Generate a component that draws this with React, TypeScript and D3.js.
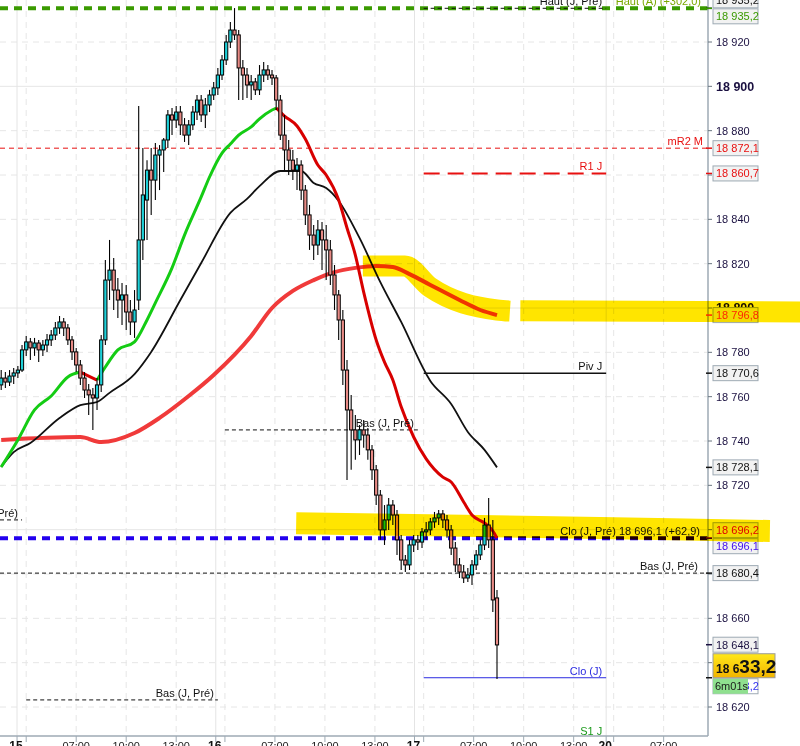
import React, { useEffect } from 'react';
import * as d3 from 'd3';

// 15 min bars, index 0 = first bar on screen
const opens = [
  18765.3, 18768.4, 18766.6, 18769.3, 18770.7, 18772.0, 18781.1, 18784.7, 18782.0, 18784.2,
  18781.1, 18783.3, 18785.6, 18787.8, 18791.0, 18793.7, 18791.0, 18785.6, 18780.2, 18774.3,
  18768.4, 18763.0, 18760.8, 18759.4, 18765.3, 18785.6, 18812.6, 18817.1, 18808.1, 18803.6,
  18805.9, 18798.2, 18793.7, 18803.6, 18830.7, 18848.7, 18862.2, 18857.7, 18869.0, 18871.3,
  18875.8, 18887.1, 18884.8, 18888.4, 18882.6, 18878.0, 18882.6, 18888.4, 18893.8, 18887.1,
  18891.6, 18896.1, 18899.3, 18905.1, 18911.9, 18920.0, 18925.4, 18923.2, 18908.3, 18905.1,
  18900.6, 18902.0, 18898.4, 18905.1, 18907.4, 18905.1, 18903.8, 18893.8, 18878.0, 18871.3,
  18866.7, 18862.2, 18864.5, 18853.2, 18842.0, 18832.9, 18828.4, 18835.2, 18830.7, 18826.2,
  18814.9, 18805.9, 18794.6, 18772.0, 18754.0, 18745.0, 18740.5, 18745.0, 18742.7, 18736.0,
  18727.0, 18715.6, 18699.9, 18704.4, 18711.1, 18706.6, 18695.4, 18686.3, 18684.1, 18693.1,
  18695.4, 18694.4, 18699.0, 18699.9, 18703.5, 18705.3, 18707.1, 18704.4, 18699.9, 18691.7,
  18684.1, 18680.9, 18678.2, 18679.6, 18684.1, 18688.6, 18693.1, 18702.1, 18695.4, 18669.2,
];
const highs = [
  18772.0, 18771.1, 18772.0, 18772.9, 18773.8, 18783.3, 18787.4, 18786.5, 18786.5, 18785.6,
  18785.6, 18788.3, 18790.1, 18793.7, 18796.4, 18795.5, 18792.8, 18787.4, 18782.0, 18776.5,
  18771.1, 18765.7, 18763.9, 18768.4, 18787.8, 18821.7, 18830.7, 18822.6, 18813.5, 18811.3,
  18810.4, 18803.6, 18808.1, 18891.1, 18872.2, 18866.7, 18872.2, 18874.4, 18873.5, 18876.7,
  18889.3, 18890.2, 18891.1, 18891.1, 18885.7, 18884.8, 18891.1, 18896.1, 18896.1, 18894.7,
  18898.4, 18902.0, 18908.3, 18914.1, 18923.2, 18929.0, 18935.3, 18925.4, 18911.9, 18908.3,
  18905.1, 18903.8, 18909.6, 18911.0, 18909.6, 18907.4, 18905.1, 18896.1, 18887.1, 18875.8,
  18871.3, 18867.7, 18866.7, 18855.5, 18846.5, 18837.4, 18839.7, 18838.8, 18837.4, 18830.7,
  18819.4, 18808.1, 18799.1, 18776.5, 18760.8, 18751.7, 18747.2, 18749.5, 18745.9, 18738.2,
  18729.2, 18717.9, 18711.1, 18714.3, 18713.4, 18708.9, 18697.6, 18688.6, 18695.4, 18697.6,
  18697.6, 18700.8, 18703.5, 18705.3, 18708.0, 18708.9, 18708.9, 18706.6, 18702.1, 18694.4,
  18687.2, 18684.1, 18682.7, 18686.3, 18690.8, 18695.4, 18705.3, 18714.3, 18704.4, 18672.8,
];
const lows = [
  18763.0, 18763.9, 18764.8, 18765.7, 18768.4, 18771.1, 18778.4, 18776.5, 18778.4, 18775.6,
  18778.4, 18780.2, 18782.9, 18785.6, 18788.3, 18787.4, 18783.3, 18776.5, 18771.1, 18765.3,
  18759.4, 18751.7, 18745.0, 18754.0, 18762.1, 18783.3, 18803.6, 18799.1, 18795.5, 18792.3,
  18790.1, 18787.8, 18786.5, 18799.1, 18821.7, 18830.7, 18842.0, 18848.7, 18853.2, 18861.4,
  18872.2, 18878.0, 18881.2, 18878.0, 18874.9, 18873.5, 18880.3, 18884.8, 18883.9, 18881.2,
  18888.4, 18893.8, 18896.1, 18902.9, 18909.6, 18917.3, 18920.9, 18893.8, 18893.8, 18894.7,
  18893.8, 18896.1, 18896.1, 18902.0, 18902.9, 18900.6, 18889.3, 18875.8, 18862.2, 18860.0,
  18857.7, 18853.2, 18848.7, 18837.4, 18826.2, 18821.7, 18823.9, 18817.1, 18812.6, 18810.4,
  18799.1, 18785.6, 18765.3, 18722.4, 18727.0, 18731.5, 18733.7, 18736.9, 18731.5, 18722.4,
  18711.1, 18695.4, 18693.1, 18699.9, 18702.1, 18688.6, 18681.8, 18680.9, 18681.8, 18689.9,
  18690.8, 18691.7, 18695.4, 18697.6, 18700.8, 18702.1, 18700.8, 18696.3, 18688.6, 18680.9,
  18678.2, 18675.9, 18676.4, 18675.0, 18681.8, 18686.3, 18690.8, 18691.7, 18662.9, 18632.6,
];
const closes = [
  18768.4, 18766.6, 18769.3, 18770.7, 18772.0, 18781.1, 18784.7, 18782.0, 18784.2, 18781.1,
  18783.3, 18785.6, 18787.8, 18791.0, 18793.7, 18791.0, 18785.6, 18780.2, 18774.3, 18768.4,
  18763.0, 18760.8, 18759.4, 18765.3, 18785.6, 18812.6, 18817.1, 18808.1, 18803.6, 18805.9,
  18798.2, 18793.7, 18799.1, 18830.7, 18851.0, 18862.2, 18857.7, 18869.0, 18871.3, 18875.8,
  18887.1, 18884.8, 18888.4, 18882.6, 18878.0, 18882.6, 18888.4, 18893.8, 18887.1, 18891.6,
  18896.1, 18899.3, 18905.1, 18911.9, 18920.0, 18925.4, 18923.2, 18908.3, 18905.1, 18900.6,
  18902.0, 18898.4, 18905.1, 18907.4, 18905.1, 18903.8, 18893.8, 18878.0, 18871.3, 18866.7,
  18862.2, 18864.5, 18853.2, 18842.0, 18832.9, 18828.4, 18835.2, 18830.7, 18826.2, 18814.9,
  18805.9, 18794.6, 18772.0, 18754.0, 18745.0, 18740.5, 18745.0, 18742.7, 18736.0, 18727.0,
  18715.6, 18699.9, 18704.4, 18711.1, 18706.6, 18695.4, 18686.3, 18684.1, 18693.1, 18695.4,
  18694.4, 18699.0, 18699.9, 18703.5, 18705.3, 18707.1, 18704.4, 18699.9, 18691.7, 18684.1,
  18680.9, 18678.2, 18679.6, 18684.1, 18688.6, 18693.1, 18702.1, 18695.4, 18668.3, 18648.0,
];

// moving averages, sampled at bar indices
const fastIdx = [0, 4, 8, 12, 16, 19, 23, 25, 28, 32, 35, 37, 41, 44, 48, 50, 53, 55, 57, 60, 62, 65, 66, 68, 71, 73, 76, 78, 81, 83, 85, 87, 90, 92, 94, 96, 99, 102, 106, 108, 111, 113, 116, 118, 119];
const fastVal = [
  18728.3, 18740.5, 18754.0, 18760.3, 18768.9, 18771.1, 18767.5, 18773.4, 18781.1, 18784.7,
  18794.6, 18802.3, 18818.1, 18832.9, 18850.1, 18859.1, 18869.9, 18874.0, 18878.0, 18881.7,
  18885.3, 18889.3, 18890.2, 18886.6, 18882.1, 18876.2, 18864.5, 18860.0, 18848.7, 18836.1,
  18823.9, 18807.2, 18785.6, 18775.6, 18767.5, 18755.4, 18741.8, 18731.9, 18723.7, 18721.5,
  18712.5, 18706.6, 18703.0, 18699.4, 18696.2,
];
const midIdx = [0, 3, 7, 14, 19, 23, 26, 32, 36, 43, 48, 55, 59, 62, 67, 72, 75, 78, 81, 86, 91, 96, 103, 108, 112, 116, 119];
const midVal = [
  18728.3, 18735.0, 18739.1, 18750.4, 18756.2, 18757.6, 18761.7, 18770.2, 18780.2, 18803.6,
  18820.3, 18842.9, 18849.2, 18855.0, 18861.8, 18861.8, 18856.4, 18854.1, 18848.3, 18831.6,
  18811.7, 18793.7, 18767.1, 18756.7, 18744.1, 18736.0, 18728.1,
];
const slowIdx = [0, 19, 24, 32, 38, 45, 51, 60, 65, 70, 75, 80, 85, 90, 94, 98, 103, 110, 115, 119];
const slowVal = [
  18740.5, 18741.8, 18739.5, 18743.6, 18750.4, 18760.3, 18769.8, 18787.4, 18800.0, 18807.7,
  18812.6, 18816.2, 18818.1, 18819.0, 18818.5, 18815.3, 18810.4, 18803.6, 18799.1, 18796.8,
];

// horizontal levels (from / to in bar units, null = plot edge)
const levelNames = ['Haut (A) (+302,0)', 'Haut (J, Pré)', 'mR2 M', 'R1 J', 'Piv J', 'Bas (J, Pré)', 'Bas (J, Pré)', 'Bas (J, Pré)', 'Clo (J, Pré)', 'Bas (J, Pré)', 'Clo (J)', 'S1 J'];
const levelValues = [18935.2, 18935.2, 18872.1, 18860.7, 18770.6, 18745.0, 18704.4, 18623.2, 18696.1, 18680.4, 18633.2, 18606.0];
const levelFrom = [null, 101.4, null, 101.4, 101.4, 53.7, null, 6, null, null, 101.4, 101.4];
const levelTo = [null, 145.2, null, 145.2, 145.2, 100, 5, 52, null, null, 145.2, 145.2];
const cloPrevChange = 62.9;

// price boxes on the right scale
const boxValues = [18935.2, 18935.2, 18872.1, 18860.7, 18796.8, 18770.6, 18728.1, 18696.2, 18696.1, 18680.4, 18648.1];
const lastPrice = 18633.2;
const timer = '6m01s';

// time axis (bar units)
const dayTicks = [3.8, 51.5, 99.2, 145.2];
const dayLabels = ['15', '16', '17', '20'];
const hourTicks = [6, 18, 30, 42, 53.7, 65.7, 77.7, 89.7, 101.4, 113.4, 125.4, 137.4, 147, 159];
const hourLabels = ['', '07:00', '10:00', '13:00', '', '07:00', '10:00', '13:00', '', '07:00', '10:00', '13:00', '', '07:00'];
const priceTicks = d3.range(18620, 18921, 20);

// highlighter strokes (bar, price)
const markA = { idx: [86.8, 96.9, 102.9, 119, 122.1], val: [18818.9, 18818.9, 18809.4, 18799.1, 18798.6] };
const markB = { idx: [124.6, 192.2], val: [18798.8, 18798.2] };
const markC = { idx: [70.8, 114.9, 143.7, 184.5], val: [18702.9, 18701.6, 18700.7, 18699.4] };

const W = 800;
const H = 746;
const plotR = 708;
const plotB = 736;
const FONT = '"Liberation Sans", Arial, sans-serif';

const loc = d3.formatLocale({ decimal: ',', thousands: ' ', grouping: [3], currency: ['', ''] });
const fmtTick = loc.format(',d');
const fmtVal = loc.format(',.1f');

export default function App() {
  useEffect(() => {
    document.body.style.margin = '0';
  }, []);

  const x = d3.scaleLinear().domain([0, 119]).range([1.2, 497]);
  const y = d3.scaleLinear().domain([18920, 18620]).range([42, 707]);

  const curve = (idx: number[], val: number[]) =>
    d3.line<number>().x((_, i) => x(idx[i])).y(d => y(d)).curve(d3.curveMonotoneX)(val) || '';

  // split fast MA in rising / falling runs
  const fastRuns: { up: boolean; idx: number[]; val: number[] }[] = [];
  for (let i = 1; i < fastVal.length; i++) {
    const up = fastVal[i] >= fastVal[i - 1];
    const last = fastRuns[fastRuns.length - 1];
    if (last && last.up === up) {
      last.idx.push(fastIdx[i]);
      last.val.push(fastVal[i]);
    } else {
      fastRuns.push({ up, idx: [fastIdx[i - 1], fastIdx[i]], val: [fastVal[i - 1], fastVal[i]] });
    }
  }

  const levelStyles = [
    { stroke: '#3a9a00', w: 4, dash: '8 6', text: '#7aa800', end: 701 },
    { stroke: '#111', w: 1, dash: '4 3', text: '#111', end: 0 },
    { stroke: '#e81010', w: 1, dash: '5 4', text: '#e81010', end: 703 },
    { stroke: '#e81010', w: 2, dash: '16 8', text: '#e81010', end: 0 },
    { stroke: '#111', w: 1.5, dash: null, text: '#111', end: 0 },
    { stroke: '#111', w: 1, dash: '4 3', text: '#111', end: 0 },
    { stroke: '#111', w: 1, dash: '4 3', text: '#111', end: 0 },
    { stroke: '#111', w: 1, dash: '4 3', text: '#111', end: 0 },
    { stroke: '#2200ee', w: 4, dash: '8 6', text: '#111', end: 700 },
    { stroke: '#111', w: 1, dash: '4 3', text: '#111', end: 698 },
    { stroke: '#2a2ae0', w: 1, dash: null, text: '#2a2ae0', end: 0 },
    { stroke: '#1a9a1a', w: 1, dash: null, text: '#1a9a1a', end: 0 },
  ];
  const boxColors = ['#111', '#3a9a00', '#e81010', '#e81010', '#ff2a00', '#111', '#111', '#e00000', '#4411ee', '#111', '#1a1040'];

  // place boxes, pushing apart the ones that overlap
  const boxes = boxValues.map((v, i) => ({ v, c: boxColors[i], cy: y(v) }));
  const order = boxes.map((_, i) => i).sort((a, b) => boxes[a].cy - boxes[b].cy);
  for (let k = 1; k < order.length; k++) {
    const a = boxes[order[k - 1]];
    const b = boxes[order[k]];
    if (b.cy - a.cy < 16) {
      const mid = (a.cy + b.cy) / 2;
      a.cy = mid - 8;
      b.cy = mid + 8;
    }
  }

  const yLast = y(lastPrice);
  const lastStr = fmtVal(lastPrice);
  const marker = (m: { idx: number[]; val: number[] }) => curve(m.idx, m.val);

  return (
    <svg width={W} height={H} style={{ position: 'absolute', left: 0, top: 0, fontFamily: FONT }}>
      <defs>
        <clipPath id="plot">
          <rect x={0} y={0} width={plotR} height={plotB} />
        </clipPath>
        <linearGradient id="gold" x1="0" y1="0" x2="0" y2="1">
          <stop offset="0" stopColor="#ffe81a" />
          <stop offset="1" stopColor="#f2b400" />
        </linearGradient>
      </defs>
      <rect width={W} height={H} fill="#fff" />

      {/* grid */}
      <g>
        {priceTicks.map(p => (
          <line key={p} x1={0} x2={plotR} y1={y(p)} y2={y(p)} stroke="#e6e6e6" strokeWidth={1}
            strokeDasharray={p % 100 === 0 ? undefined : '6 5'} />
        ))}
        {hourTicks.map((t, i) => (
          <line key={'h' + i} x1={x(t)} x2={x(t)} y1={0} y2={plotB} stroke="#e6e6e6" strokeDasharray="6 5" />
        ))}
        {dayTicks.map((t, i) => (
          <line key={'d' + i} x1={x(t)} x2={x(t)} y1={0} y2={plotB} stroke="#e4e4e4" />
        ))}
      </g>

      <g clipPath="url(#plot)">
        {/* levels */}
        {levelValues.map((v, i) => {
          const st = levelStyles[i];
          const x1 = levelFrom[i] === null ? 0 : x(levelFrom[i] as number);
          const x2 = levelTo[i] === null ? plotR : x(levelTo[i] as number);
          return (
            <line key={'l' + i} x1={x1} x2={x2} y1={y(v)} y2={y(v)} stroke={st.stroke}
              strokeWidth={st.w} strokeDasharray={st.dash || undefined} />
          );
        })}

        {/* moving averages */}
        <path d={curve(slowIdx, slowVal)} fill="none" stroke="#f03a3a" strokeWidth={4} strokeLinejoin="round" />
        <path d={curve(midIdx, midVal)} fill="none" stroke="#111" strokeWidth={1.8} strokeLinejoin="round" />
        {fastRuns.map((r, i) => (
          <path key={'f' + i} d={curve(r.idx, r.val)} fill="none" stroke={r.up ? '#14cc14' : '#d80000'}
            strokeWidth={3} strokeLinejoin="round" />
        ))}

        {/* candles */}
        {closes.map((c, i) => {
          const o = opens[i];
          const cx = x(i);
          const top = y(Math.max(o, c));
          const bot = y(Math.min(o, c));
          return (
            <g key={'c' + i}>
              <line x1={cx} x2={cx} y1={y(highs[i])} y2={y(lows[i])} stroke="#000" strokeWidth={1.1} />
              <rect x={cx - 1.6} y={top} width={3.2} height={Math.max(1, bot - top)}
                fill={c >= o ? '#1fd0d8' : '#e88a85'} stroke="#000" strokeWidth={1} />
            </g>
          );
        })}
      </g>

      {/* level labels */}
      <g fontSize={11}>
        {levelValues.map((v, i) => {
          const st = levelStyles[i];
          const xe = st.end || (levelTo[i] === null ? plotR - 6 : x(levelTo[i] as number) - 4);
          const txt = i === 8 ? `${levelNames[i]} ${fmtVal(v)} (+${fmtVal(cloPrevChange)})` : levelNames[i];
          const ly = Math.min(y(v) - 3, plotB - 1);
          return (
            <text key={'t' + i} x={xe} y={ly} textAnchor="end" fill={st.text}>{txt}</text>
          );
        })}
      </g>

      {/* axes */}
      <line x1={plotR} x2={plotR} y1={0} y2={plotB} stroke="#9eaab4" strokeWidth={1.5} />
      <line x1={0} x2={plotR} y1={plotB} y2={plotB} stroke="#9eaab4" strokeWidth={1.5} />
      {priceTicks.map(p => (
        <g key={'pt' + p}>
          <line x1={plotR} x2={plotR + 4} y1={y(p)} y2={y(p)} stroke="#6a7680" />
          <text x={716} y={y(p)} dy="0.35em" fontSize={p % 100 === 0 ? 12.5 : 11}
            fontWeight={p % 100 === 0 ? 'bold' : 'normal'} fill="#1a1040">{fmtTick(p)}</text>
        </g>
      ))}
      {hourTicks.map((t, i) => (
        <g key={'ht' + i}>
          <line x1={x(t)} x2={x(t)} y1={plotB} y2={plotB + 6} stroke="#9eaab4" />
          <text x={x(t)} y={750} textAnchor="middle" fontSize={11} fill="#222">{hourLabels[i]}</text>
        </g>
      ))}
      {dayTicks.map((t, i) => (
        <g key={'dt' + i}>
          <line x1={x(t)} x2={x(t)} y1={plotB} y2={plotB + 6} stroke="#9eaab4" />
          <text x={x(t) - 1} y={750} textAnchor="middle" fontSize={12} fontWeight="bold" fill="#111">{dayLabels[i]}</text>
        </g>
      ))}

      {/* price boxes */}
      {boxes.map((b, i) => (
        <g key={'b' + i}>
          <line x1={plotR - 2} x2={plotR + 4} y1={y(b.v)} y2={y(b.v)} stroke={b.c} strokeWidth={1.5} />
          <rect x={713} y={b.cy - 7.5} width={45} height={15} fill="#f2f2f2" stroke="#9eaab4" />
          <text x={716} y={b.cy} dy="0.36em" fontSize={11} fill={b.c}>{fmtVal(b.v)}</text>
        </g>
      ))}
      <line x1={plotR - 2} x2={plotR + 4} y1={yLast} y2={yLast} stroke="#111" strokeWidth={1.5} />
      <rect x={713} y={yLast + 1} width={45} height={15} fill="#fff" stroke="#9eaab4" />
      <text x={716} y={yLast + 8.5} dy="0.36em" fontSize={11} fill="#3333ee">{lastStr}</text>
      <rect x={713} y={yLast + 1} width={35} height={15} fill="#8fe08f" />
      <text x={715} y={yLast + 8.5} dy="0.36em" fontSize={11} fill="#1a1a1a">{timer}</text>
      <rect x={713} y={yLast - 24} width={62} height={24} fill="url(#gold)" stroke="#9a9a9a" />
      <text x={716} y={yLast - 5} fontWeight="bold" fill="#111">
        <tspan fontSize={12}>{lastStr.slice(0, 4)}</tspan>
        <tspan fontSize={19}>{lastStr.slice(4)}</tspan>
      </text>

      {/* highlighter marks */}
      <g style={{ mixBlendMode: 'multiply' }} fill="none" stroke="#ffe500" strokeLinecap="butt" strokeLinejoin="round">
        <path d={marker(markA)} strokeWidth={21} />
        <path d={marker(markB)} strokeWidth={21} />
        <path d={marker(markC)} strokeWidth={22} />
      </g>
    </svg>
  );
}
